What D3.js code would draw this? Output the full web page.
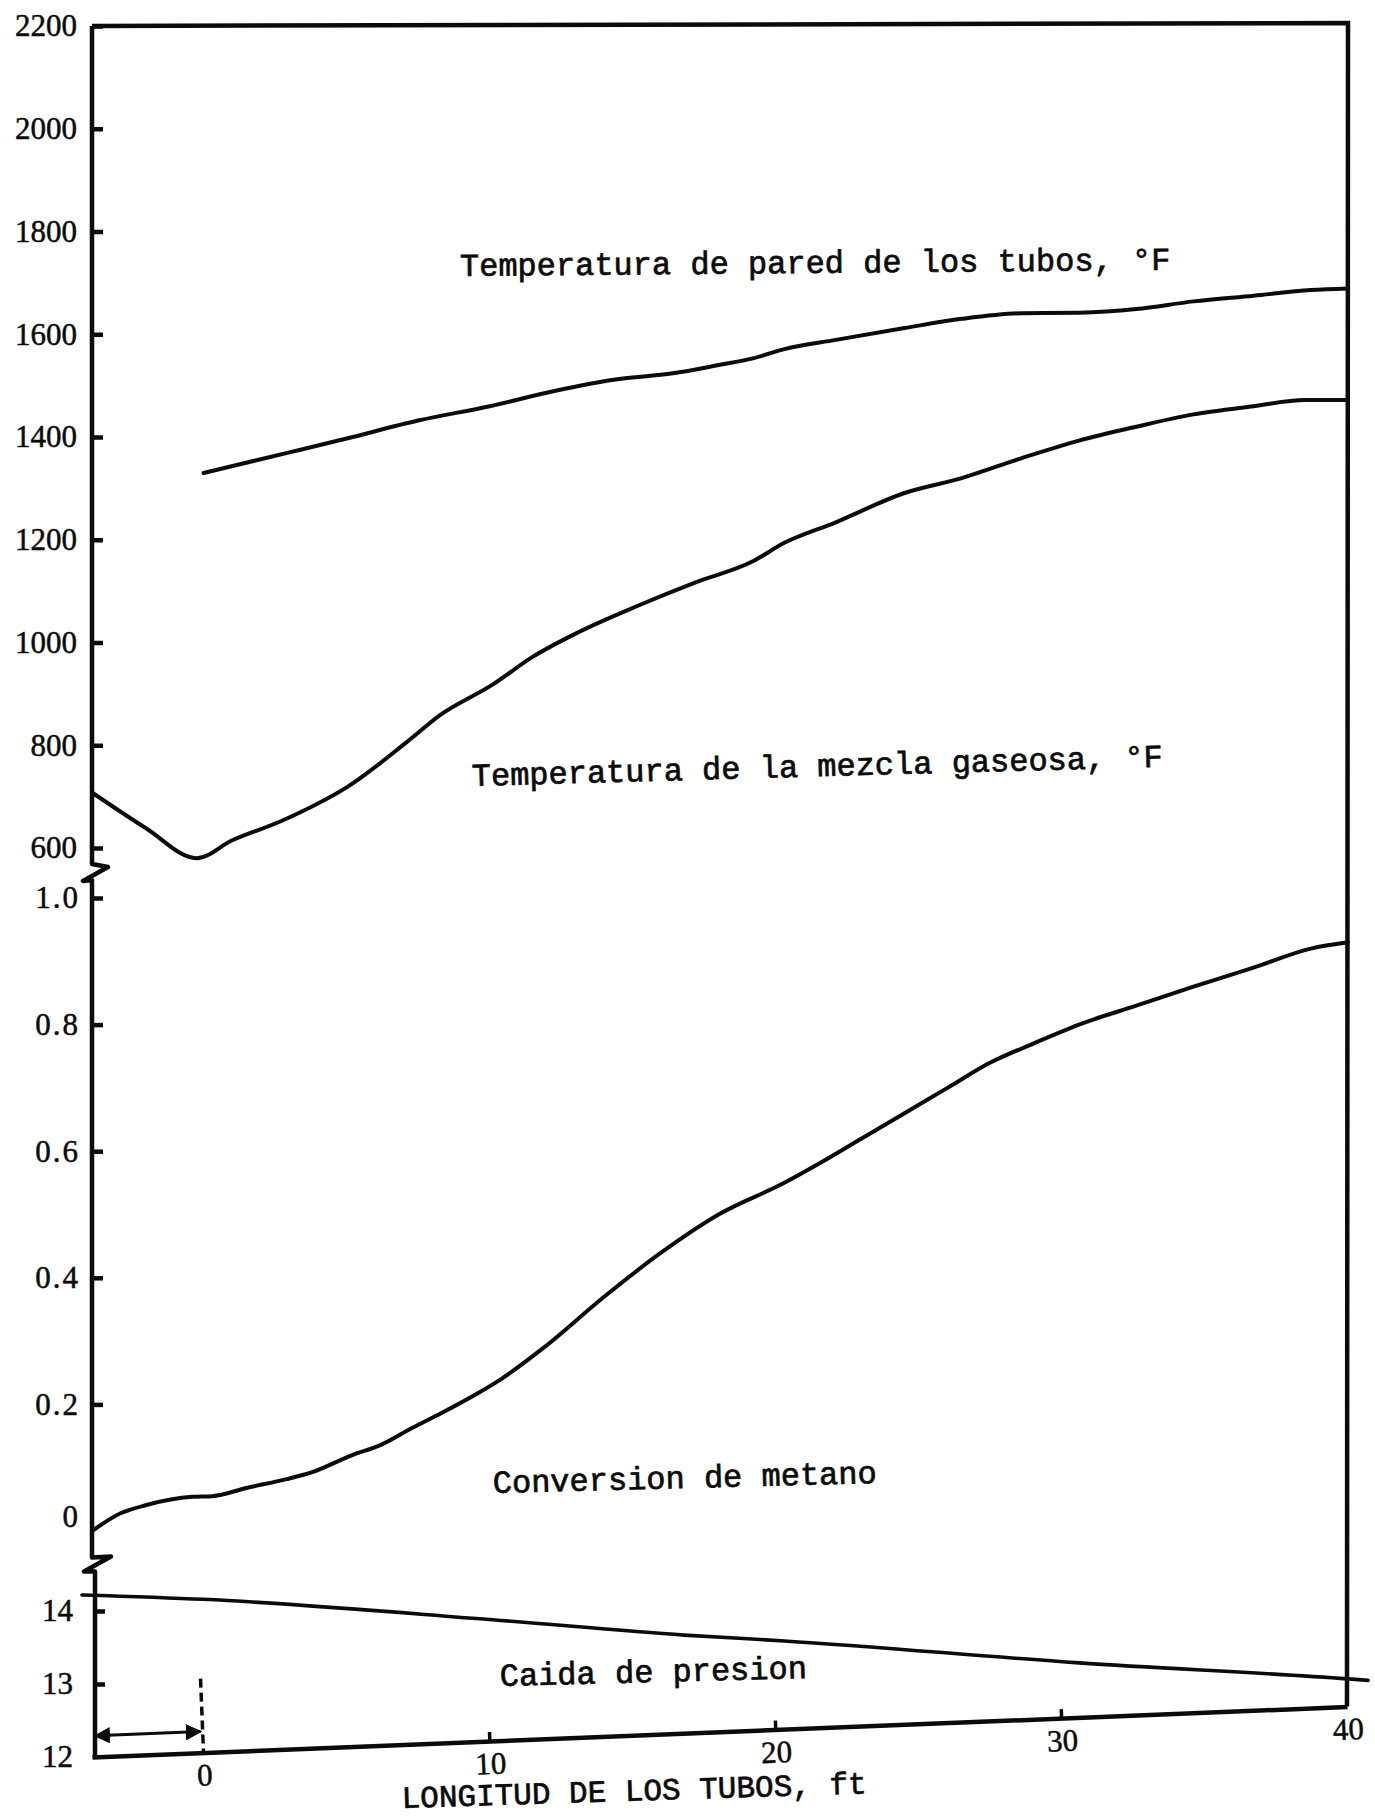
<!DOCTYPE html>
<html>
<head>
<meta charset="utf-8">
<script src="https://cdn.jsdelivr.net/npm/d3@7"></script>
<style>
  html, body { margin: 0; padding: 0; background: #fff; }
  svg { display: block; }
</style>
</head>
<body>
<svg id="chart" width="1375" height="1819"></svg>
<script>
// ---- Data -------------------------------------------------------------
// Tube wall temperature, °F, along the tube length (ft)
const wallLength = [0, 3, 5, 7.5, 10, 12.3, 14.4, 16.4, 18, 19.2, 20.3, 22.1, 24.5, 26.5, 28.6, 30.6, 32.6, 34.6, 36.7, 38.7, 40];
const wallTemp   = [1330, 1370, 1397, 1432, 1460, 1490, 1512, 1524, 1540, 1553, 1571, 1589, 1612, 1630, 1641, 1642, 1649, 1664, 1675, 1686, 1689];

// Gas mixture temperature, °F
const gasLength = [-3.9, -2, -0.24, 1, 2.7, 3.4, 5, 7.1, 8.3, 10.1, 11.5, 13.1, 15.2, 17.2, 19.2, 20.3, 22.1, 24.5, 26.5, 28.6, 30.6, 32.6, 34.6, 36.7, 38.5, 40];
const gasTemp   = [708, 638, 580, 615, 652, 670, 718, 806, 860, 918, 972, 1020, 1072, 1117, 1158, 1194, 1234, 1291, 1320, 1359, 1393, 1420, 1444, 1460, 1472, 1472];

// Methane conversion (fraction)
const convLength = [-3.9, -2.9, -2, -0.4, 0.3, 1.5, 2.9, 3.8, 5.2, 6.2, 7.3, 8.3, 9.6, 10.4, 11.9, 14, 16, 18, 20.3, 21.5, 23, 24.5, 26, 27.5, 29, 30.6, 32.6, 34.6, 36.7, 38.7, 40];
const convValue  = [0.0, 0.028, 0.041, 0.054, 0.055, 0.068, 0.082, 0.093, 0.12, 0.136, 0.163, 0.186, 0.218, 0.24, 0.29, 0.37, 0.44, 0.50, 0.55, 0.58, 0.62, 0.66, 0.70, 0.74, 0.77, 0.80, 0.83, 0.86, 0.89, 0.92, 0.93];

// Pressure
const presLength = [-4.25, 0, 10.1, 16.8, 20.3, 30.6, 40, 40.7];
const presValue  = [14.22, 14.16, 13.88, 13.67, 13.59, 13.29, 13.07, 13.05];

// Axis ticks
const xTicks     = [0, 10, 20, 30, 40];
const tempTicks  = [600, 800, 1000, 1200, 1400, 1600, 1800, 2000, 2200];
const convTicks  = [0, 0.2, 0.4, 0.6, 0.8, 1.0];
const convLabels = ["0", "0.2", "0.4", "0.6", "0.8", "1.0"];
const presTicks  = [12, 13, 14];

// Curve captions and axis title
const captions = [
  "Temperatura de pared de los tubos, °F",
  "Temperatura de la mezcla gaseosa, °F",
  "Conversion de metano",
  "Caida de presion"
];
const xTitle = "LONGITUD DE LOS TUBOS, ft";

// ---- Layout -----------------------------------------------------------
const svg = d3.select("#chart");
const INK = "#0b0b0b";
const typeFont = "'Liberation Mono', 'DejaVu Sans Mono', monospace";
const numFont = "'Liberation Serif', 'DejaVu Serif', serif";

const xMin = -3.9, xMax = 40;
const x  = d3.scaleLinear().domain([xMin, xMax]).range([92, 1348]);
const yT = d3.scaleLinear().domain([600, 2200]).range([848, 26]);
const yC = d3.scaleLinear().domain([0, 1]).range([1531, 898]);
const yP = d3.scaleLinear().domain([12, 14]).range([1757, 1611]);

const x0 = x(xMin);
const tilt = -2.3; // the length axis is drawn slightly rising to the right

function rotatePoint(px, py, deg, cx, cy) {
  const a = deg * Math.PI / 180;
  const dx = px - cx, dy = py - cy;
  return [cx + dx * Math.cos(a) - dy * Math.sin(a), cy + dx * Math.sin(a) + dy * Math.cos(a)];
}

// typewritten text: a thin outline in the ink colour gives the heavier strokes
function typeStyle(sel, size) {
  sel.attr("fill", INK)
    .attr("stroke", INK).attr("stroke-width", 0.7)
    .attr("text-anchor", "start")
    .style("font-family", typeFont)
    .style("font-size", size + "px");
}

// ---- Frame ------------------------------------------------------------
const bottomRight = rotatePoint(x(xMax), yP(12), tilt, x0, yP(12));
svg.append("path")
  .attr("d", `M${x0},${yT(2200)} L${x(xMax)},${yT(2200) - 3} L${bottomRight[0]},${bottomRight[1]}`)
  .attr("fill", "none").attr("stroke", INK).attr("stroke-width", 4.5)
  .attr("stroke-linejoin", "miter");

// Left axis in three pieces with break marks between panels
const brk1 = yT(565), brk2 = yC(-0.042);
svg.append("path")
  .attr("d",
    `M${x0},${yT(2200)} L${x0},${brk1 - 2} L${x0 + 16},${brk1 + 1} L${x0 - 9},${brk1 + 15} L${x0},${brk1 + 14}` +
    ` L${x0},${brk2} L${x0 + 19},${brk2 - 1} L${x0 - 8},${brk2 + 14} L${x0 + 3},${brk2 + 14} L${x0 + 3},${yP(12)}`)
  .attr("fill", "none").attr("stroke", INK).attr("stroke-width", 4.5)
  .attr("stroke-linejoin", "round");

function styleAxis(g) {
  g.select(".domain").remove();
  g.selectAll(".tick line").attr("stroke", INK).attr("stroke-width", 4.5);
  g.selectAll(".tick text")
    .attr("fill", INK)
    .attr("stroke", INK).attr("stroke-width", 0.5)
    .style("font-family", numFont)
    .style("font-size", "31px");
}

svg.append("g").attr("transform", `translate(${x0},0)`)
  .call(d3.axisLeft(yT).tickValues(tempTicks).tickFormat(d3.format("d"))
    .tickSizeInner(-11).tickSizeOuter(0).tickPadding(15))
  .call(styleAxis);

svg.append("g").attr("transform", `translate(${x0},0)`)
  .call(d3.axisLeft(yC).tickValues(convTicks).tickFormat((d, i) => convLabels[i])
    .tickSizeInner(-11).tickSizeOuter(0).tickPadding(12))
  .call(styleAxis)
  .call(g => g.selectAll(".tick text").style("letter-spacing", "2px"))
  .call(g => g.selectAll(".tick").filter(d => d === 0).select("text").attr("dy", "-0.15em"))
  .call(g => g.selectAll(".tick").filter(d => d === 0).select("line").remove());

svg.append("g").attr("transform", `translate(${x0 + 3},0)`)
  .call(d3.axisLeft(yP).tickValues(presTicks).tickFormat(d3.format("d"))
    .tickSizeInner(-10).tickSizeOuter(0).tickPadding(22))
  .call(styleAxis)
  .call(g => g.selectAll(".tick").filter(d => d === 12).select("line").remove());

// ---- Length axis (tilted) ----------------------------------------------
const gx = svg.append("g")
  .attr("transform", `rotate(${tilt}, ${x0}, ${yP(12)}) translate(0, ${yP(12)})`);

gx.call(d3.axisBottom(x).tickValues(xTicks).tickSizeInner(-9).tickSizeOuter(0).tickPadding(11))
  .call(g => g.select(".domain").attr("stroke", INK).attr("stroke-width", 4.5))
  .call(g => g.selectAll(".tick line").attr("stroke", INK).attr("stroke-width", 3.5))
  .call(g => g.selectAll(".tick").filter(d => d === 0 || d === 40).select("line").remove())
  .call(g => g.selectAll(".tick text").attr("fill", INK)
    .attr("stroke", INK).attr("stroke-width", 0.5)
    .style("font-family", numFont).style("font-size", "31px"));

// dashed marker at the start of the heated length and the preheat arrow
gx.append("line")
  .attr("x1", x(0)).attr("x2", x(0)).attr("y1", -74).attr("y2", 0)
  .attr("stroke", INK).attr("stroke-width", 3.5).attr("stroke-dasharray", "9,5");

const defs = svg.append("defs");
defs.append("marker").attr("id", "head").attr("viewBox", "0 0 10 10")
  .attr("refX", 9).attr("refY", 5).attr("markerWidth", 5.5).attr("markerHeight", 5.5)
  .attr("orient", "auto-start-reverse")
  .append("path").attr("d", "M0,0 L10,5 L0,10 Z").attr("fill", INK);

gx.append("line")
  .attr("x1", x0 + 4).attr("x2", x(0) - 2).attr("y1", -21).attr("y2", -21)
  .attr("stroke", INK).attr("stroke-width", 3)
  .attr("marker-start", "url(#head)").attr("marker-end", "url(#head)");

// axis title, typed with a slightly smaller rise than the axis line
const titlePos = { x: 402, y: 1808, r: -1.8 };
svg.append("text")
  .attr("x", titlePos.x).attr("y", titlePos.y)
  .attr("transform", `rotate(${titlePos.r}, ${titlePos.x}, ${titlePos.y})`)
  .call(typeStyle, 31)
  .text(xTitle);

// ---- Curves -------------------------------------------------------------
const zip = (a, b) => a.map((v, i) => [v, b[i]]);

function drawCurve(xs, ys, yScale, width) {
  svg.append("path")
    .datum(zip(xs, ys))
    .attr("d", d3.line().x(d => x(d[0])).y(d => yScale(d[1])).curve(d3.curveMonotoneX))
    .attr("fill", "none").attr("stroke", INK)
    .attr("stroke-width", width)
    .attr("stroke-linecap", "round").attr("stroke-linejoin", "round");
}

drawCurve(wallLength, wallTemp, yT, 4);
drawCurve(gasLength, gasTemp, yT, 4);
drawCurve(convLength, convValue, yC, 4);
drawCurve(presLength, presValue, yP, 3.6);

// ---- Captions -------------------------------------------------------------
const captionPos = [
  { x: 460, y: 276, r: -0.5 },
  { x: 472, y: 786, r: -1.6 },
  { x: 493, y: 1493, r: -1.5 },
  { x: 500, y: 1686, r: -1.5 }
];

svg.append("g").selectAll("text")
  .data(captions)
  .join("text")
  .attr("x", (d, i) => captionPos[i].x)
  .attr("y", (d, i) => captionPos[i].y)
  .attr("transform", (d, i) => `rotate(${captionPos[i].r}, ${captionPos[i].x}, ${captionPos[i].y})`)
  .call(typeStyle, 32)
  .text(d => d);
</script>
</body>
</html>
